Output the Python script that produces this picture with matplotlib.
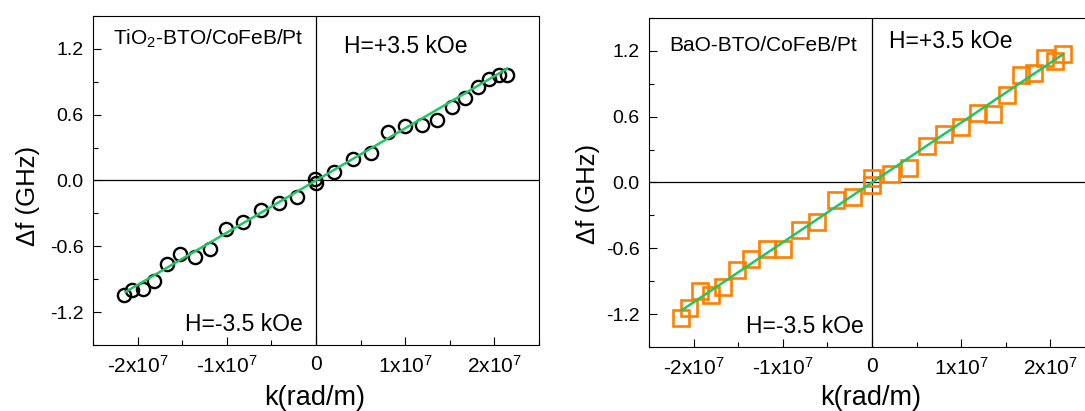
import numpy as np
import matplotlib
matplotlib.use("Agg")
import matplotlib.pyplot as plt
from matplotlib.ticker import MultipleLocator, FixedLocator

plt.rcParams['font.family'] = ['Liberation Sans', 'DejaVu Sans']
plt.rcParams['mathtext.fontset'] = 'custom'
plt.rcParams['mathtext.rm'] = 'Liberation Sans'
plt.rcParams['mathtext.it'] = 'Liberation Sans:italic'
plt.rcParams['mathtext.bf'] = 'Liberation Sans:bold'

# ---- data (k in units of 1e7 rad/m, df in GHz) ----
k_tio2 = [-2.154, -2.060, -1.940, -1.816, -1.670, -1.524, -1.360, -1.187, -1.004,
          -0.813, -0.614, -0.416, -0.210, -0.010, 0.000, 0.206, 0.416, 0.614, 0.809,
          1.000, 1.184, 1.356, 1.524, 1.674, 1.813, 1.940, 2.049, 2.142]
df_tio2 = [-1.045, -0.997, -0.985, -0.915, -0.758, -0.667, -0.694, -0.624, -0.445,
           -0.376, -0.267, -0.206, -0.148, 0.018, -0.021, 0.082, 0.200, 0.252, 0.442,
           0.494, 0.509, 0.555, 0.670, 0.749, 0.852, 0.924, 0.961, 0.964]

k_bao = [-2.139, -2.046, -1.926, -1.806, -1.669, -1.515, -1.355, -1.172, -1.000,
         -0.803, -0.612, -0.407, -0.209, 0.000, 0.000, 0.209, 0.411, 0.612, 0.810,
         0.997, 1.183, 1.351, 1.519, 1.669, 1.814, 1.945, 2.046, 2.142]
df_bao = [-1.234, -1.143, -0.988, -1.024, -0.952, -0.797, -0.700, -0.609, -0.606,
          -0.433, -0.361, -0.158, -0.130, 0.043, -0.027, 0.076, 0.136, 0.333, 0.442,
          0.503, 0.633, 0.621, 0.794, 0.982, 1.003, 1.139, 1.112, 1.170]

# fitted lines (slope GHz per 1e7 rad/m)
fit_tio2 = {"slope": 0.476, "k_range": [-2.135, 2.142]}
fit_bao = {"slope": 0.546, "k_range": [-2.13, 2.142]}

xticks = [-2, -1, 0, 1, 2]
xticklabels = [r'-2x10$^{7}$', r'-1x10$^{7}$', '0', r'1x10$^{7}$', r'2x10$^{7}$']
yticks = [-1.2, -0.6, 0.0, 0.6, 1.2]
yticklabels = ['-1.2', '-0.6', '0.0', '0.6', '1.2']

W, H = 1085, 411
fig = plt.figure(figsize=(W / 100, H / 100), dpi=100)

def px_axes(l, r, t, b):
    return [l / W, (H - b) / H, (r - l) / W, (b - t) / H]

ax1 = fig.add_axes(px_axes(93, 539, 16, 345))
ax2 = fig.add_axes(px_axes(649, 1095, 18, 347))

green = '#1ec664'
orange = '#ff8000'

def style(ax):
    ax.set_xlim(-2.5, 2.5)
    ax.set_ylim(-1.5, 1.5)
    ax.axhline(0, color='black', lw=0.9, zorder=1)
    ax.axvline(0, color='black', lw=0.9, zorder=1)
    ax.xaxis.set_major_locator(FixedLocator(xticks))
    ax.set_xticklabels(xticklabels)
    ax.xaxis.set_minor_locator(MultipleLocator(0.5))
    ax.yaxis.set_major_locator(FixedLocator(yticks))
    ax.set_yticklabels(yticklabels)
    ax.yaxis.set_minor_locator(MultipleLocator(0.3))
    ax.tick_params(which='both', direction='in', top=False, right=False, width=0.8)
    ax.tick_params(which='major', length=6, pad=7)
    ax.tick_params(which='minor', length=3.5)
    ax.tick_params(axis='y', labelsize=14)
    ax.tick_params(axis='x', labelsize=15)
    for s in ax.spines.values():
        s.set_linewidth(0.8)

style(ax1)
style(ax2)

ax1.plot(k_tio2, df_tio2, linestyle='none', marker='o', ms=9.5, mfc='none',
         mec='black', mew=1.7, zorder=3)
kr = np.array(fit_tio2["k_range"])
ax1.plot(kr, fit_tio2["slope"] * kr, color=green, lw=1.8, zorder=4)

ax2.plot(k_bao, df_bao, linestyle='none', marker='s', ms=11, mfc='none',
         mec=orange, mew=1.9, zorder=3)
kr = np.array(fit_bao["k_range"])
ax2.plot(kr, fit_bao["slope"] * kr, color=green, lw=1.8, zorder=4)

ax1.text(0.045, 0.912, r'TiO$\mathregular{_2}$-BTO/CoFeB/Pt', transform=ax1.transAxes,
         fontsize=15, va='baseline', ha='left')
ax1.text(0.563, 0.887, 'H=+3.5 kOe', transform=ax1.transAxes, fontsize=16.5,
         va='baseline', ha='left')
ax1.text(0.206, 0.0435, 'H=-3.5 kOe', transform=ax1.transAxes, fontsize=16.5,
         va='baseline', ha='left')

ax2.text(0.0455, 0.90, 'BaO-BTO/CoFeB/Pt', transform=ax2.transAxes,
         fontsize=15, va='baseline', ha='left')
ax2.text(0.539, 0.91, 'H=+3.5 kOe', transform=ax2.transAxes, fontsize=16.5,
         va='baseline', ha='left')
ax2.text(0.2175, 0.0416, 'H=-3.5 kOe', transform=ax2.transAxes, fontsize=16.5,
         va='baseline', ha='left')

fig.text(28 / W, (H - 196) / H, 'Δf (GHz)', rotation=90, ha='center', va='center', fontsize=18.5)
fig.text(588 / W, (H - 194) / H, 'Δf (GHz)', rotation=90, ha='center', va='center', fontsize=18.5)
fig.text(315 / W, (H - 405) / H, 'k(rad/m)', ha='center', va='baseline', fontsize=19.5)
fig.text(871 / W, (H - 405) / H, 'k(rad/m)', ha='center', va='baseline', fontsize=19.5)

fig.savefig('out.png', dpi=100)
